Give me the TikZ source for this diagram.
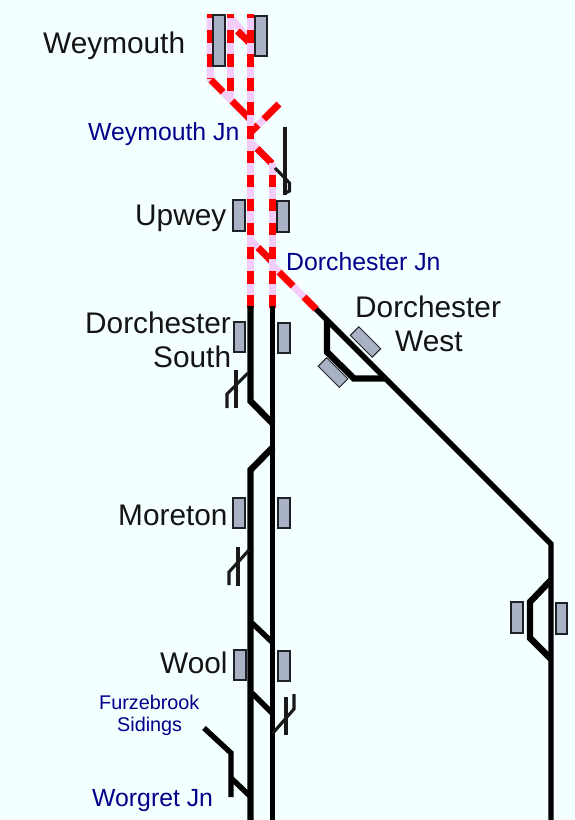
\documentclass[tikz,border=0pt]{standalone}
\usepackage{fontspec}
\setmainfont{Liberation Sans}
\definecolor{bgc}{HTML}{F4FFFF}
\definecolor{pinkc}{HTML}{F3CCF8}
\definecolor{redc}{HTML}{FF0000}
\definecolor{platc}{HTML}{A8B2C4}
\definecolor{platb}{HTML}{1E2228}
\definecolor{jnblue}{HTML}{00008B}
\tikzset{
  plat/.style={draw=platb,fill=platc,line width=1.7pt},
  trackb/.style={draw=black,line width=#1,line join=miter},
  trackb/.default=5pt,
  thinb/.style={draw=black!90,line width=3.1pt},
  big/.style={font=\fontsize{29.8pt}{30pt}\selectfont,anchor=base west,text=black!92,inner sep=0pt},
  jn/.style={font=\fontsize{24.8pt}{25pt}\selectfont,anchor=base west,text=jnblue,inner sep=0pt},
  small/.style={font=\fontsize{19.8pt}{20pt}\selectfont,anchor=base west,text=jnblue,inner sep=0pt},
  pinkt/.style={draw=pinkc,line width=7pt},
  redt/.style={draw=redc,line width=7pt,dash pattern=on 12.5pt off 11.6pt,dash phase=#1},
  reds/.style={draw=redc,line width=7pt}
}
\newcommand{\railpath}[2]{%
  \draw[pinkt] #2;
  \draw[redt=#1] #2;
}
\begin{document}
\begin{tikzpicture}[x=1pt,y=-1pt]
\useasboundingbox[fill=bgc] (0,0) rectangle (575,820);
% Coloured tracks: pink base
\draw[pinkt] (210,14) -- (210,79) -- (250,119);
\draw[pinkt] (230,17) -- (250,40);
\draw[pinkt] (279,104) -- (250,133);
\draw[pinkt] (250,141.5) -- (272,163.5);
\draw[pinkt] (250,239.5) -- (272,261.5);
\draw[pinkt] (272,265) -- (316,309);
% red on the slopes
\draw[reds] (211,80) -- (223,92);
\draw[reds] (232,101) -- (250,119);
\draw[reds] (237.5,31) -- (250,43);
\draw[reds] (279,104) -- (264,119);
\draw[reds] (258,125) -- (250,133);
\draw[reds] (257,148.5) -- (272,163.5);
\draw[reds] (258,247.5) -- (272,261.5);
\draw[reds] (279,272) -- (293,286);
\draw[reds] (304,297) -- (316,309);
% upright tracks
\railpath{8.1pt}{(210,14) -- (210,79)}
\railpath{8.1pt}{(230,14) -- (230,97)}
\railpath{8.1pt}{(250,14) -- (250,308)}
\railpath{12.5pt}{(272,163) -- (272,308)}
% Black tracks
\draw[trackb=6.4pt] (250.5,306) -- (250.5,401) -- (273,424);
\draw[trackb=5.4pt] (272.5,306) -- (272.5,820);
\draw[trackb=6.4pt] (273,447) -- (250.5,470) -- (250.5,820);
\draw[trackb=5.4pt] (252,623) -- (273,643);
\draw[trackb=5.4pt] (252,693) -- (273,714);
\draw[trackb=5.4pt] (316,309) -- (551,544) -- (551,820);
\draw[trackb=6.4pt] (327,320) -- (327,352) -- (354,378.5) -- (386,378.5);
\draw[trackb=6.4pt] (551,580) -- (530,602) -- (530,638) -- (551,659);
\draw[trackb=5.4pt] (204,728) -- (231,753) -- (231,797);
\draw[trackb=5.4pt] (231,778) -- (251,797);
% Thin sidings
\draw[thinb] (285,127) -- (285,195);
\draw[thinb] (275,168) -- (289.5,183) -- (289.5,191) -- (285,193);
\draw[thinb] (236,370) -- (236,408);
\draw[thinb] (248,373) -- (227,394) -- (227,408);
\draw[thinb] (238,547) -- (238,586);
\draw[thinb] (249,550) -- (229,572) -- (229,585);
\draw[thinb] (286,697) -- (286,735);
\draw[thinb] (273,733) -- (294,709) -- (294,694);
% Platforms
\draw[plat] (213,15) rectangle (225,66);
\draw[plat] (255,16) rectangle (267,56);
\draw[plat] (233,200) rectangle (245,231);
\draw[plat] (277,201) rectangle (289,232);
\draw[plat] (234,322) rectangle (245,352);
\draw[plat] (278,323) rectangle (290,353);
\draw[plat] (233,498) rectangle (245,528);
\draw[plat] (278,498) rectangle (290,528);
\draw[plat] (234,650) rectangle (246,680);
\draw[plat] (278,651) rectangle (290,681);
\draw[plat] (511,602) rectangle (523,633);
\draw[plat] (556,603) rectangle (567,634);
\draw[plat,line width=1pt,rotate around={-45:(365.5,342)}] (350,336) rectangle (381,348);
\draw[plat,line width=1pt,rotate around={-45:(333,372.5)}] (318,366.5) rectangle (348,378.5);
% Labels
\node[big] (weymouth) at (43,53) {Weymouth};
\node[jn] (weymouthjn) at (88,140) {Weymouth Jn};
\node[big] (upwey) at (135,225) {Upwey};
\node[jn] (dorchesterjn) at (286,270) {Dorchester Jn};
\node[big] (dwa) at (355,317) {Dorchester};
\node[big] (dwb) at (395,351) {West};
\node[big] (dsa) at (85,333) {Dorchester};
\node[big] (dsb) at (153,367) {South};
\node[big] (moreton) at (118,525) {Moreton};
\node[big] (wool) at (160,673) {Wool};
\node[small] (furz) at (99,709) {Furzebrook};
\node[small] (sid) at (117,731) {Sidings};
\node[jn] (worgret) at (92,806) {Worgret Jn};
\end{tikzpicture}
\end{document}
